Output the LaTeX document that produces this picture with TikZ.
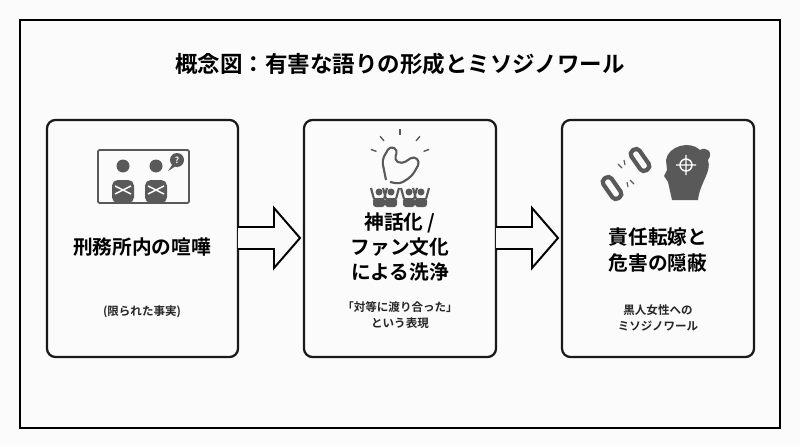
\documentclass[tikz,border=0pt]{standalone}
\usepackage{fontspec}
\setmainfont{Noto Sans CJK JP}
\newfontfamily\jpb{Noto Sans CJK JP Bold}
\begin{document}
\begin{tikzpicture}[x=0.025cm,y=-0.025cm,
  box/.style={draw=black!90,line width=1.6pt,rounded corners=6pt},
  big/.style={font=\jpb\fontsize{14}{18}\selectfont,align=center},
  small/.style={font=\jpb\fontsize{8.2}{11}\selectfont,align=center,text=black!85},
  ico/.style={fill=black!65,draw=none},
  icl/.style={draw=black!65,line width=1pt}]
\fill[white!96!yellow!40!gray!6] (0,0) rectangle (800,446);
\useasboundingbox (0,0) rectangle (800,446);
\draw[line width=1.4pt] (20,20) rectangle (780,428);
\node[font=\jpb\fontsize{16}{18}\selectfont] (title) at (400,64) {概念図：有害な語りの形成とミソジノワール};
% boxes
\draw[box] (47,120) rectangle (238,357);
\draw[box] (304,120) rectangle (496,357);
\draw[box] (562,120) rectangle (754,357);
\coordinate (b1) at (238,238); \coordinate (b2) at (304,238);
\coordinate (b3) at (496,238); \coordinate (b4) at (562,238);
% hollow arrows
\foreach \a in {238,496}{
 \draw[line width=1.4pt,fill=white!96!gray] (\a,227) -- (\a+36,227) -- (\a+36,208) -- (\a+62,238) -- (\a+36,268) -- (\a+36,249) -- (\a,249);}
% texts
\node[big] (t1) at (142,247) {刑務所内の喧嘩};
\node[small] (s1) at (142,312) {(限られた事実)};
\node[big] (t2) at (400,247) {神話化 /\\ファン文化\\による洗浄};
\node[small] (s2) at (400,315) {「対等に渡り合った」\\という表現};
\node[big] (t3) at (658,250) {責任転嫁と\\危害の隠蔽};
\node[small] (s3) at (658,318) {黒人女性への\\ミソジノワール};
% icon 1
\draw[black!65,line width=1.2pt,rounded corners=1pt] (98,150) rectangle (189,203);
\foreach \x in {123,156}{
 \fill[ico] (\x,166) circle (6.5);
 \fill[ico,rounded corners=4pt] (\x-11,203) -- (\x-11,180) -- (\x+11,180) -- (\x+11,203) -- cycle;
 \draw[white,line width=1pt] (\x-8,186) -- (\x+8,194) (\x+8,186) -- (\x-8,194);}
\fill[ico] (177,160) circle (7);
\fill[ico] (172,165) -- (168,171) -- (176,166) -- cycle;
\node[text=white,font=\jpb\fontsize{6}{6}\selectfont] at (177,160) {?};
% icon 2: flexed arm
\draw[icl,line width=1.5pt,rounded corners=3pt] (386,180) -- (382,160) -- (390,146) -- (398,150) -- (394,160) -- (402,164) -- (414,156) -- (420,162) -- (412,176) -- (400,184) -- (390,182);
\foreach \a in {20,50,90,130,160}{\draw[icl] ({400+25*cos(\a+180)},{160-25*sin(\a)}) -- ({400+31*cos(\a+180)},{160-31*sin(\a)});}
\foreach \x in {379,391,409,421}{
 \fill[ico] (\x,192) circle (3.5);
 \fill[ico,rounded corners=2pt] (\x-6,207) -- (\x-6,198) -- (\x+6,198) -- (\x+6,207) -- cycle;
 \draw[icl,line width=1.5pt] (\x-5,199) -- (\x-8,188) (\x+5,199) -- (\x+8,188);}
% icon 3: broken chain + head
\draw[icl,line width=3pt,rounded corners=3pt,rotate around={-55:(640,160)}] (628,155) rectangle (652,165);
\draw[icl,line width=3pt,rounded corners=3pt,rotate around={-55:(612,188)}] (600,183) rectangle (624,193);
\draw[icl,line width=0.8pt] (622,168) -- (618,164) (625,165) -- (624,160) (630,180) -- (634,184) (627,182) -- (628,187);
\fill[ico] (672,200) -- (668,182) -- (664,176) -- (667,170) -- (666,160) .. controls (668,146) and (690,140) .. (700,150) .. controls (706,146) and (714,152) .. (708,160) .. controls (712,172) and (700,182) .. (698,200) -- cycle;
\draw[white,line width=1pt] (686,165) circle (6) (686,155) -- (686,175) (676,165) -- (696,165);
\end{tikzpicture}
\end{document}
